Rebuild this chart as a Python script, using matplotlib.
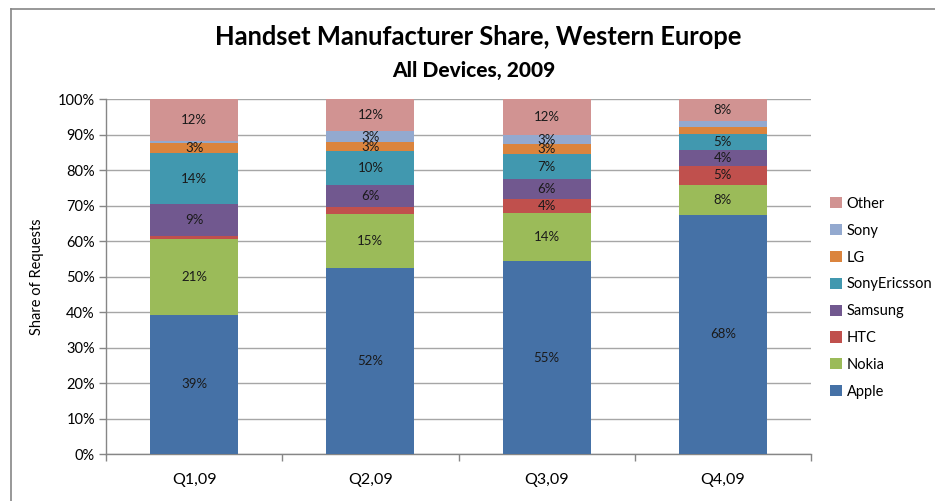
import matplotlib
matplotlib.use("Agg")
import matplotlib.pyplot as plt
from matplotlib.lines import Line2D
from matplotlib.ticker import FuncFormatter
import numpy as np

plt.rcParams['font.family'] = ['Lato', 'DejaVu Sans']

categories = ["Q1,09", "Q2,09", "Q3,09", "Q4,09"]
series_names = ["Apple", "Nokia", "HTC", "Samsung", "SonyEricsson", "LG", "Sony", "Other"]
apple = [39.3, 52.3, 54.4, 67.5]
nokia = [21.2, 15.5, 13.5, 8.4]
htc = [1.1, 1.9, 3.9, 5.4]
samsung = [8.8, 6.1, 5.6, 4.4]
sonyericsson = [14.4, 9.6, 7.3, 4.5]
lg = [3.0, 2.5, 2.6, 2.0]
sony = [0.5, 3.1, 2.7, 1.6]
other = [11.7, 9.0, 10.0, 6.2]

# data label text as printed on the chart (None = no label)
apple_lbl = ["39%", "52%", "55%", "68%"]
nokia_lbl = ["21%", "15%", "14%", "8%"]
htc_lbl = [None, None, "4%", "5%"]
samsung_lbl = ["9%", "6%", "6%", "4%"]
sonyericsson_lbl = ["14%", "10%", "7%", "5%"]
lg_lbl = ["3%", "3%", "3%", None]
sony_lbl = [None, "3%", "3%", None]
other_lbl = ["12%", "12%", "12%", "8%"]

colors = ["#4571A6", "#9BBB59", "#C0504D", "#71588F", "#4198AF", "#DB843D", "#93A9CF", "#D19392"]

values = [apple, nokia, htc, samsung, sonyericsson, lg, sony, other]
labels = [apple_lbl, nokia_lbl, htc_lbl, samsung_lbl, sonyericsson_lbl, lg_lbl, sony_lbl, other_lbl]

W, H = 935, 501
fig = plt.figure(figsize=(W / 100, H / 100), dpi=100)
ax = fig.add_axes([106 / W, 1 - 454 / H, (811 - 106) / W, (454 - 99.3) / H])

x = np.arange(len(categories))
bottom = np.zeros(len(categories))
handles = []
for name, vals, lbls, col in zip(series_names, values, labels, colors):
    vals = np.array(vals)
    b = ax.bar(x, vals, 0.5, bottom=bottom, color=col, label=name, zorder=3,
               edgecolor=col, linewidth=0)
    handles.append(b)
    for xi, v, bt, t in zip(x, vals, bottom, lbls):
        if t:
            ax.text(xi, bt + v / 2, t, ha="center", va="center", fontsize=9.5,
                    color="#1a1a1a", zorder=4)
    bottom = bottom + vals

ax.set_xlim(-0.5, len(categories) - 0.5)
ax.set_ylim(0, 100)
ax.set_yticks(np.arange(0, 101, 10))
ax.yaxis.set_major_formatter(FuncFormatter(lambda v, p: f"{int(v)}%"))
ax.set_xticks(x)
ax.set_xticklabels(categories)
ax.set_xticks(np.arange(-0.5, len(categories), 1.0), minor=True)
ax.tick_params(axis="x", which="major", length=0, labelsize=11.5, pad=14, colors="#000000")
ax.tick_params(axis="x", which="minor", length=5, color="#868686", width=1)
ax.tick_params(axis="y", length=5, color="#868686", width=1, labelsize=10.5, pad=3)
ax.grid(axis="y", color="#A6A6A6", linewidth=1, zorder=0)
for s in ["top", "right"]:
    ax.spines[s].set_visible(False)
for s in ["left", "bottom"]:
    ax.spines[s].set_color("#868686")
    ax.spines[s].set_linewidth(1)

ax.set_ylabel("Share of Requests", fontsize=10.5, labelpad=10)

fig.text(478 / W, 1 - 37 / H, "Handset Manufacturer Share, Western Europe",
         ha="center", va="center", fontsize=18.4, fontweight="bold")
fig.text(474 / W, 1 - 70 / H, "All Devices, 2009",
         ha="center", va="center", fontsize=15, fontweight="black")

# legend (reverse order, like the reference)
leg = fig.legend(handles[::-1], series_names[::-1], loc="upper left",
                 bbox_to_anchor=(824 / W, 1 - 191 / H), frameon=False,
                 fontsize=10.5, handlelength=0.8, handleheight=0.8,
                 labelspacing=0.88, handletextpad=0.35, borderaxespad=0)

# outer chart frame
fig.add_artist(Line2D([11 / W, 1.0], [1 - 9 / H, 1 - 9 / H], color="#868686", linewidth=1.2,
                      transform=fig.transFigure))
fig.add_artist(Line2D([11 / W, 11 / W], [1 - 9 / H, 0], color="#868686", linewidth=1.2,
                      transform=fig.transFigure))

fig.savefig("out.png", dpi=100)
